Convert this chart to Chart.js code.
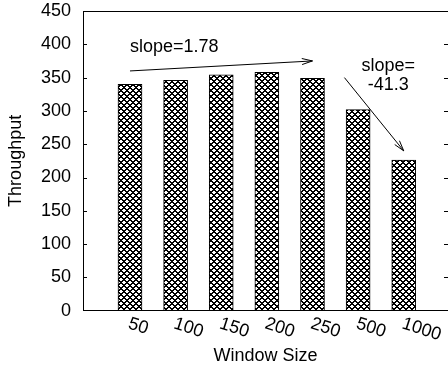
<!DOCTYPE html>
<html>
<head>
<meta charset="utf-8">
<script src="https://cdn.jsdelivr.net/npm/chart.js@4"></script>
<style>
  html, body { margin: 0; padding: 0; background: #fff; }
  #wrap { width: 448px; height: 369px; }
</style>
</head>
<body>
<div id="wrap"><canvas id="c" width="448" height="369"></canvas></div>
<script>
// Window sizes on the x axis and the measured throughput for each
const windowSizes = ['50', '100', '150', '200', '250', '500', '1000'];
const throughput = [340, 346, 354, 358, 349, 302, 226];

// Y axis range and tick step
const yMin = 0;
const yMax = 450;
const yStep = 50;

// Trend annotations, anchored in data units (x = bar index, y = throughput)
const slopeArrows = [
  { from: [0.0, 360], to: [4.0, 375] },
  { from: [4.7, 350], to: [6.0, 240] }
];
const slopeLabels = [
  { lines: ['slope=1.78'], at: [0.0, 389], align: 'left' },
  { lines: ['slope=', '-41.3'], at: [5.66, 360], align: 'center' }
];

const FONT = "'Liberation Sans', Arial, Helvetica, sans-serif";
Chart.defaults.font.family = FONT;
Chart.defaults.font.size = 18;
Chart.defaults.color = '#000';

// Crosshatch fill used for the bars
function crosshatch() {
  const t = document.createElement('canvas');
  t.width = 6; t.height = 6;
  const g = t.getContext('2d');
  g.fillStyle = '#fff';
  g.fillRect(0, 0, 6, 6);
  g.fillStyle = '#000';
  for (let y = 0; y < 6; y++) {
    for (let x = 0; x < 6; x++) {
      const a = (x + y) % 6, b = ((x - y) % 6 + 6) % 6;
      if (a <= 1 || b <= 1) g.fillRect(x, y, 1, 1);
    }
  }
  return document.getElementById('c').getContext('2d').createPattern(t, 'repeat');
}

// Frame, inward ticks, slanted category labels and slope annotations
const decorations = {
  id: 'decorations',
  afterDraw(chart) {
    const { ctx, chartArea: a, scales: { x, y } } = chart;
    ctx.save();
    ctx.strokeStyle = '#000';
    ctx.lineWidth = 1;

    // top and right edges of the frame
    ctx.beginPath();
    ctx.moveTo(a.left, Math.round(a.top) + 0.5);
    ctx.lineTo(a.right + 1, Math.round(a.top) + 0.5);
    ctx.moveTo(Math.round(a.right) + 0.5, a.top);
    ctx.lineTo(Math.round(a.right) + 0.5, a.bottom);
    ctx.stroke();

    // inward tick marks on both vertical edges
    ctx.beginPath();
    y.ticks.forEach(t => {
      const py = Math.round(y.getPixelForValue(t.value)) + 0.5;
      if (t.value === yMin || t.value === yMax) return;
      ctx.moveTo(a.left, py); ctx.lineTo(a.left + 4, py);
      ctx.moveTo(a.right - 4, py); ctx.lineTo(a.right, py);
    });
    ctx.stroke();

    // category labels, slanted downward
    ctx.fillStyle = '#000';
    ctx.font = '18px ' + FONT;
    ctx.textAlign = 'left';
    ctx.textBaseline = 'top';
    windowSizes.forEach((lab, i) => {
      const px = x.getPixelForValue(i);
      ctx.save();
      ctx.translate(px + 1.5, a.bottom + 4);
      ctx.rotate(18 * Math.PI / 180);
      ctx.fillText(lab, 0, 0);
      ctx.restore();
    });

    // arrows
    slopeArrows.forEach(ar => {
      const x1 = x.getPixelForValue(ar.from[0]), y1 = y.getPixelForValue(ar.from[1]);
      const x2 = x.getPixelForValue(ar.to[0]), y2 = y.getPixelForValue(ar.to[1]);
      const ang = Math.atan2(y2 - y1, x2 - x1);
      const head = 11, spread = 16 * Math.PI / 180;
      ctx.beginPath();
      ctx.moveTo(x1, y1); ctx.lineTo(x2, y2);
      ctx.moveTo(x2 - head * Math.cos(ang - spread), y2 - head * Math.sin(ang - spread));
      ctx.lineTo(x2, y2);
      ctx.lineTo(x2 - head * Math.cos(ang + spread), y2 - head * Math.sin(ang + spread));
      ctx.stroke();
    });

    // slope labels
    ctx.textBaseline = 'alphabetic';
    slopeLabels.forEach(lb => {
      const px = x.getPixelForValue(lb.at[0]), py = y.getPixelForValue(lb.at[1]);
      ctx.textAlign = lb.align;
      lb.lines.forEach((s, k) => ctx.fillText(s, px, py + k * 19));
    });
    ctx.restore();
  }
};

new Chart(document.getElementById('c'), {
  type: 'bar',
  data: {
    datasets: [{
      data: throughput.map((v, i) => ({ x: i, y: v })),
      backgroundColor: crosshatch(),
      borderColor: '#000',
      borderWidth: 1,
      borderSkipped: false,
      barThickness: 24
    }]
  },
  options: {
    responsive: false,
    animation: false,
    events: [],
    layout: { padding: 0 },
    plugins: { legend: { display: false }, tooltip: { enabled: false } },
    scales: {
      x: {
        type: 'linear',
        offset: false,
        min: -1.03,
        max: 6.97,
        grid: { display: false },
        border: { display: true, color: '#000', width: 1 },
        ticks: { display: false },
        title: { display: true, text: 'Window Size', font: { size: 18 }, padding: { top: 0, bottom: 2 } },
        afterFit(s) { s.height = 58.3; }
      },
      y: {
        min: yMin,
        max: yMax,
        grid: { display: false, drawTicks: false },
        border: { display: true, color: '#000', width: 1 },
        ticks: { stepSize: yStep, padding: 12, font: { size: 18 } },
        title: { display: true, text: 'Throughput', font: { size: 18 }, padding: { top: 5, bottom: 0 } },
        afterFit(s) { s.width = 83; s.paddingTop = 11; s.paddingBottom = 0; }
      }
    }
  },
  plugins: [decorations]
});
</script>
</body>
</html>
